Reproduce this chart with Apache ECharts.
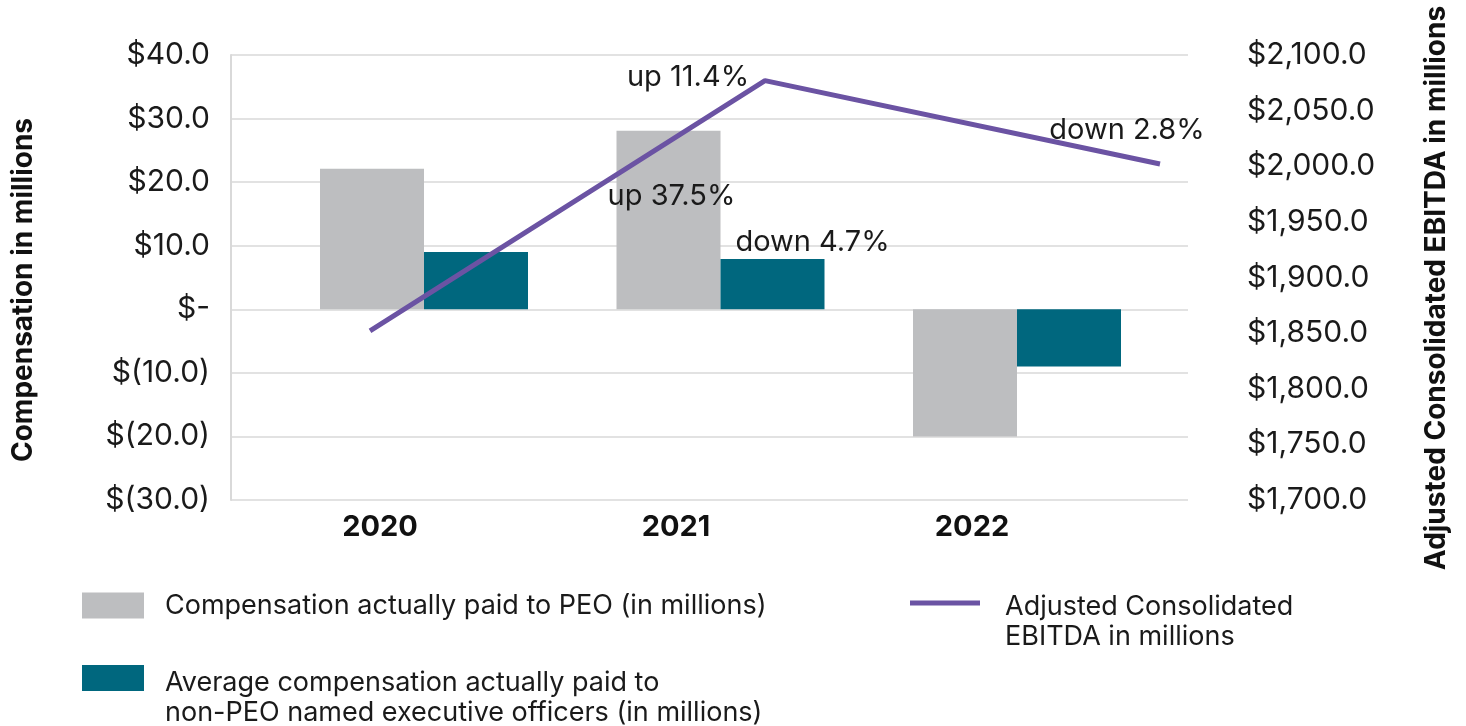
<!DOCTYPE html>
<html>
<head>
<meta charset="utf-8">
<title>Compensation actually paid vs. Adjusted Consolidated EBITDA</title>
<script src="https://cdn.jsdelivr.net/npm/echarts@6/dist/echarts.min.js"></script>
<style>
  html, body { margin: 0; padding: 0; background: #ffffff; }
  #chart { width: 1466px; height: 726px; }
</style>
</head>
<body>
<div id="chart"></div>
<script>
// Fiscal years shown on the category axis
const years = ['2020', '2021', '2022'];
// Compensation actually paid to the PEO, $ millions
const peoPay = [22.1, 28.1, -20.0];
// Average compensation actually paid to non-PEO NEOs, $ millions
const neoPay = [9.0, 7.9, -9.0];
// Adjusted Consolidated EBITDA, $ millions
const ebitda = [1852, 2077, 2002];
// Year-over-year change callouts
const peoNotes = ['', 'up 37.5%', ''];
const neoNotes = ['', 'down 4.7%', ''];
const ebitdaNotes = ['', 'up 11.4%', 'down 2.8%'];
// Axis ranges
const compAxis = { min: -30, max: 40, step: 10 };
const ebitdaAxis = { min: 1700, max: 2100, step: 50 };

const FONT = 'Inter';
const GRID_LINE = '#d9d9d9';
const C_PEO = '#bdbec0';
const C_NEO = '#00677e';
const C_LINE = '#6b53a3';

const fmtComp = v => {
  if (v === 0) return '$-';
  if (v < 0) return '$(' + Math.abs(v).toFixed(1) + ')';
  return '$' + v.toFixed(1);
};
const fmtEbitda = v => '$' + v.toLocaleString('en-US', { minimumFractionDigits: 1, maximumFractionDigits: 1 });

const noteStyle = { fontFamily: FONT, fontSize: 29, color: '#1a1a1a' };

const chart = echarts.init(document.getElementById('chart'));
chart.setOption({
  animation: false,
  backgroundColor: '#ffffff',
  grid: [
    // plot frame: gridlines and both value axes
    { left: 231, right: 278, top: 55, bottom: 226 },
    // clustered bars
    { left: 275.75, right: 300.75, top: 55, bottom: 226 },
    // year labels
    { left: 232, right: 346, top: 55, bottom: 226 },
    // EBITDA line
    { left: 370, right: 306, top: 55, bottom: 226 }
  ],
  xAxis: [
    { gridIndex: 0, type: 'category', data: years, show: false },
    { gridIndex: 1, type: 'category', data: years, show: false },
    {
      gridIndex: 2, type: 'category', data: years,
      axisLine: { show: false }, axisTick: { show: false },
      axisLabel: { fontFamily: FONT, fontSize: 29, fontWeight: 'bold', color: '#111', margin: 13 }
    },
    { gridIndex: 3, type: 'category', data: years, boundaryGap: false, show: false }
  ],
  yAxis: [
    {
      gridIndex: 0, type: 'value', min: compAxis.min, max: compAxis.max, interval: compAxis.step,
      axisLine: { show: true, lineStyle: { color: GRID_LINE, width: 2 } },
      axisTick: { show: false },
      splitLine: { show: true, lineStyle: { color: GRID_LINE, width: 1.5 } },
      axisLabel: { formatter: fmtComp, fontFamily: FONT, fontSize: 30, color: '#1a1a1a', margin: 21 }
    },
    {
      gridIndex: 0, type: 'value', position: 'right', min: ebitdaAxis.min, max: ebitdaAxis.max, interval: ebitdaAxis.step,
      axisLine: { show: false }, axisTick: { show: false }, splitLine: { show: false },
      axisLabel: { formatter: fmtEbitda, fontFamily: FONT, fontSize: 30, color: '#1a1a1a', margin: 59, align: 'left' }
    },
    { gridIndex: 1, type: 'value', min: compAxis.min, max: compAxis.max, show: false },
    { gridIndex: 2, type: 'value', min: compAxis.min, max: compAxis.max, show: false },
    { gridIndex: 3, type: 'value', min: ebitdaAxis.min, max: ebitdaAxis.max, show: false }
  ],
  legend: [
    {
      data: ['Compensation actually paid to PEO (in millions)'],
      left: 82, top: 592, padding: 0,
      icon: 'rect', itemWidth: 62, itemHeight: 26,
      textStyle: { fontFamily: FONT, fontSize: 27, color: '#1a1a1a', padding: [0, 0, 0, 16] }
    },
    {
      data: ['Average compensation actually paid to\nnon-PEO named executive officers (in millions)'],
      left: 82, top: 665, padding: 0,
      icon: 'path://M0,0h62v26h-62z M0,65.9h0.1v0.1h-0.1z', itemWidth: 62, itemHeight: 66,
      textStyle: { fontFamily: FONT, fontSize: 27, lineHeight: 30, color: '#1a1a1a', padding: [0, 0, 0, 16] }
    },
    {
      data: ['Adjusted Consolidated\nEBITDA in millions'],
      left: 910, top: 592, padding: 0,
      icon: 'path://M0,0h70v5h-70z M0,42.9h0.1v0.1h-0.1z', itemWidth: 70, itemHeight: 43,
      textStyle: { fontFamily: FONT, fontSize: 27, lineHeight: 30, color: '#1a1a1a', padding: [0, 0, 0, 20] }
    }
  ],
  series: [
    {
      name: 'Compensation actually paid to PEO (in millions)',
      type: 'bar', xAxisIndex: 1, yAxisIndex: 2,
      data: peoPay.map((v, i) => ({
        value: v,
        label: {
          show: peoNotes[i] !== '', formatter: peoNotes[i],
          position: ['50%', 66], offset: [3, 0], align: 'center', verticalAlign: 'middle', ...noteStyle
        }
      })),
      barWidth: 104, barGap: '0%',
      itemStyle: { color: C_PEO }, z: 2
    },
    {
      name: 'Average compensation actually paid to\nnon-PEO named executive officers (in millions)',
      type: 'bar', xAxisIndex: 1, yAxisIndex: 2,
      data: neoPay.map((v, i) => ({
        value: v,
        label: {
          show: neoNotes[i] !== '', formatter: neoNotes[i],
          position: ['50%', -17], offset: [40, 0], align: 'center', verticalAlign: 'middle', ...noteStyle
        }
      })),
      barWidth: 104, barGap: '0%',
      itemStyle: { color: C_NEO }, z: 2
    },
    {
      name: 'Adjusted Consolidated\nEBITDA in millions',
      type: 'line', xAxisIndex: 3, yAxisIndex: 4,
      data: ebitda.map((v, i) => ({
        value: v,
        label: {
          show: ebitdaNotes[i] !== '', formatter: ebitdaNotes[i],
          position: 'inside', align: 'center', verticalAlign: 'middle',
          offset: i === 1 ? [-77, -3] : [-33, -34], ...noteStyle
        }
      })),
      symbol: 'circle', symbolSize: 0.1, showSymbol: true,
      itemStyle: { color: C_LINE },
      lineStyle: { color: C_LINE, width: 5 },
      z: 5
    }
  ],
  graphic: [
    {
      type: 'text', x: 24, y: 290, rotation: Math.PI / 2,
      style: { text: 'Compensation in millions', fontFamily: FONT, fontSize: 28, fontWeight: 'bold', fill: '#111', align: 'center', verticalAlign: 'middle' }
    },
    {
      type: 'text', x: 1437, y: 288, rotation: Math.PI / 2,
      style: { text: 'Adjusted Consolidated EBITDA in millions', fontFamily: FONT, fontSize: 28, fontWeight: 'bold', fill: '#111', align: 'center', verticalAlign: 'middle' }
    }
  ]
});
</script>
</body>
</html>
